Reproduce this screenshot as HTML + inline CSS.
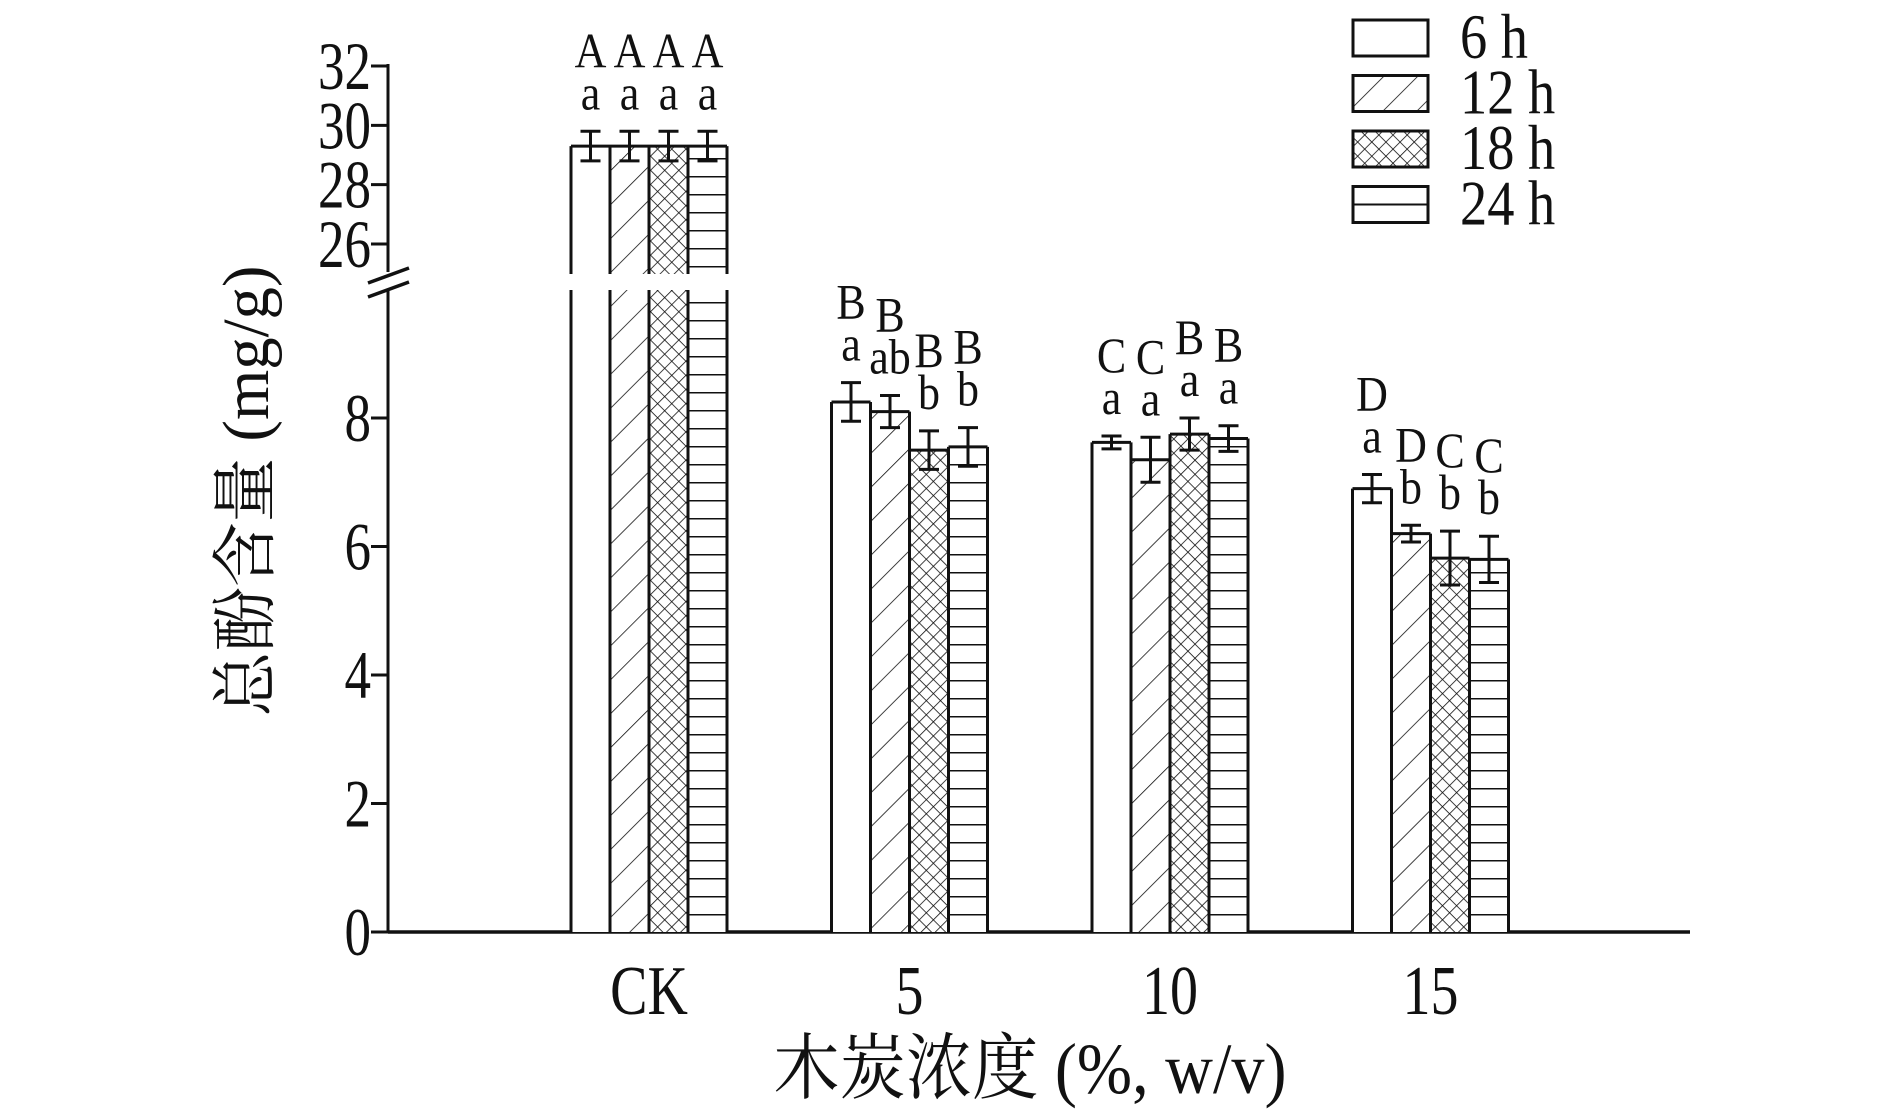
<!DOCTYPE html>
<html><head><meta charset="utf-8"><style>
html,body{margin:0;padding:0;background:#fff;}
svg{display:block;}
text{font-family:"Liberation Serif","Noto Serif CJK SC","Noto Sans CJK SC",serif;fill:#111;}
</style></head><body>
<svg id="chart" width="1890" height="1112" viewBox="0 0 1890 1112" xmlns="http://www.w3.org/2000/svg">
<defs>
<pattern id="p-hatch" patternUnits="userSpaceOnUse" width="24" height="24" patternTransform="rotate(45)">
<line x1="0" y1="0" x2="0" y2="24" stroke="#111" stroke-width="1.6"/></pattern>
<pattern id="p-cross" patternUnits="userSpaceOnUse" width="10" height="10" patternTransform="rotate(45)">
<line x1="0" y1="0" x2="0" y2="10" stroke="#111" stroke-width="1.6"/><line x1="0" y1="0" x2="10" y2="0" stroke="#111" stroke-width="1.6"/></pattern>
<pattern id="p-horiz" patternUnits="userSpaceOnUse" width="40" height="18" y="932">
<line x1="0" y1="0.5" x2="40" y2="0.5" stroke="#111" stroke-width="2"/></pattern>
</defs>
<g id="axes"></g>
<g id="bars"></g>
<g id="legend"></g>
<text x="0" y="0" font-size="72" text-anchor="middle" transform="translate(1030,1093) scale(0.92,1)">木炭浓度 (%, w/v)</text>
<text x="0" y="0" font-size="66" text-anchor="middle" transform="translate(268,491) rotate(-90) scale(0.98,1)">总酚含量 (mg/g)</text>
</svg>
<script>
const categories = ["CK", "5", "10", "15"];
const seriesNames = ["6 h", "12 h", "18 h", "24 h"];
const values6 = [29.3, 8.25, 7.62, 6.9];
const values12 = [29.3, 8.1, 7.35, 6.2];
const values18 = [29.3, 7.5, 7.75, 5.82];
const values24 = [29.3, 7.55, 7.68, 5.8];
const err6 = [0.5, 0.3, 0.1, 0.22];
const err12 = [0.5, 0.25, 0.35, 0.13];
const err18 = [0.5, 0.3, 0.25, 0.42];
const err24 = [0.5, 0.3, 0.2, 0.36];
const upper6 = ["A", "B", "C", "D"];
const upper12 = ["A", "B", "C", "D"];
const upper18 = ["A", "B", "B", "C"];
const upper24 = ["A", "B", "B", "C"];
const lower6 = ["a", "a", "a", "a"];
const lower12 = ["a", "ab", "a", "b"];
const lower18 = ["a", "b", "a", "b"];
const lower24 = ["a", "b", "a", "b"];
const lowTicks = [0, 2, 4, 6, 8];
const highTicks = [26, 28, 30, 32];

const NS = "http://www.w3.org/2000/svg";
const BREAK = 9.5;
function yLow(v){ return 932 - v * 64.25; }
function yHigh(v){ return 244 - (v - 26) * 29.67; }
function yVal(v){ return v <= BREAK ? yLow(v) : yHigh(v); }
function xGroup(i){ return 649 + i * 260.5; }
function mk(tag, attrs, parent){ const e = document.createElementNS(NS, tag); for (const k in attrs) e.setAttribute(k, attrs[k]); parent.appendChild(e); return e; }
function txt(parent, x, y, size, anchor, sx, str){
  const t = mk('text', {x: 0, y: 0, 'font-size': size, 'text-anchor': anchor, transform: `translate(${x},${y}) scale(${sx},1)`}, parent);
  t.textContent = str;
  return t;
}

const axes = document.getElementById('axes');
const bars = document.getElementById('bars');
const legend = document.getElementById('legend');
const AX = 388;
let l = mk('line', {x1: AX, y1: 932, x2: 1690, y2: 932, stroke: '#111', 'stroke-width': 3.5}, axes);


l = mk('line', {x1: AX, y1: 932, x2: AX, y2: 289, stroke: '#111', 'stroke-width': 3}, axes);


l = mk('line', {x1: AX, y1: 64, x2: AX, y2: 272, stroke: '#111', 'stroke-width': 3}, axes);


for (const dy of [0, 14]) {
  l = mk('line', {x1: 368, y1: 283 + dy, x2: 409, y2: 268 + dy, stroke: '#111', 'stroke-width': 3.5}, axes);
  
  
}
function tick(v, y){
  const t = mk('line', {x1: AX - 17, y1: y, x2: AX, y2: y, stroke: '#111', 'stroke-width': 3}, axes);
  
  
  const tx = txt(axes, AX - 17, y + 23, 68, 'end', 0.78, v);
  
  
}
lowTicks.forEach(v => tick(v, yLow(v)));
highTicks.forEach(v => tick(v, yHigh(v)));
categories.forEach((c, i) => {
  const t = txt(axes, xGroup(i), 1014, 70, 'middle', 0.8, c);
  
  
});

const series = [values6, values12, values18, values24];
const errs = [err6, err12, err18, err24];
const uppers = [upper6, upper12, upper18, upper24];
const lowers = [lower6, lower12, lower18, lower24];
const fills = ['#fff', 'url(#p-hatch)', 'url(#p-cross)', 'url(#p-horiz)'];
const BW = 39;
categories.forEach((c, i) => {
  series.forEach((vals, s) => {
    const v = vals[i];
    const x = xGroup(i) - 2 * BW + s * BW;
    const top = yVal(v);
    const segs = v > BREAK ? [[top, 274, true], [290, 932, false]] : [[top, 932, true]];
    segs.forEach(([a, b, cap]) => {
      mk('rect', {x: x, y: a, width: BW, height: b - a, fill: '#fff'}, bars);
      const r = mk('rect', {x: x, y: a, width: BW, height: b - a, fill: fills[s], stroke: 'none'}, bars);
      
      
      if (cap) mk('line', {x1: x, y1: a, x2: x + BW, y2: a, stroke: '#111', 'stroke-width': 3}, bars);
      mk('line', {x1: x, y1: a, x2: x, y2: b, stroke: '#111', 'stroke-width': 3}, bars);
      mk('line', {x1: x + BW, y1: a, x2: x + BW, y2: b, stroke: '#111', 'stroke-width': 3}, bars);
    });
    const e = errs[s][i];
    const cx = x + BW / 2;
    const yt = yVal(v + e), yb = yVal(v - e);
    const eb = mk('path', {d: `M${cx - 10},${yt}H${cx + 10}M${cx},${yt}V${yb}M${cx - 10},${yb}H${cx + 10}`, stroke: '#111', 'stroke-width': 3, fill: 'none'}, bars);
    
    
    const lo = txt(bars, cx, yt - 22, 50, 'middle', 0.88, lowers[s][i]);
    
    
    const up = txt(bars, cx, yt - 64, 50, 'middle', 0.88, uppers[s][i]);
    
    
  });
});

seriesNames.forEach((n, s) => {
  const y = 20 + s * 55.5;
  mk('rect', {x: 1353, y: y, width: 75, height: 36, fill: '#fff'}, legend);
  const r = mk('rect', {x: 1353, y: y, width: 75, height: 36, fill: fills[s] === 'url(#p-horiz)' ? '#fff' : fills[s], stroke: '#111', 'stroke-width': 3}, legend);
  
  
  if (s === 3) mk('line', {x1: 1353, y1: y + 18, x2: 1428, y2: y + 18, stroke: '#111', 'stroke-width': 2}, legend);
  const t = txt(legend, 1460, y + 38, 64, 'start', 0.85, n);
  
  
});
</script>
</body></html>
